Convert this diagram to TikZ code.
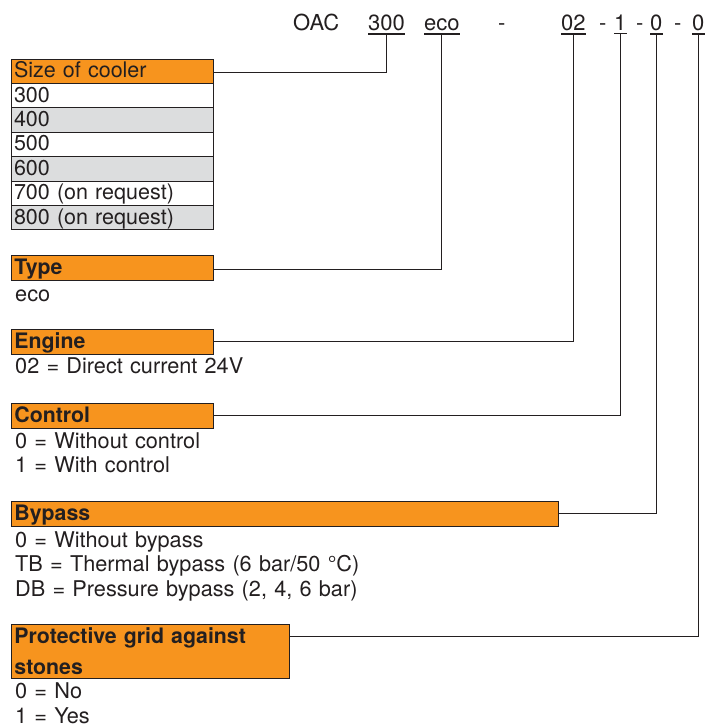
\documentclass[tikz,border=0pt]{standalone}
\usepackage{fontspec}
\setmainfont{TeX Gyre Heros}
\usetikzlibrary{positioning}
\definecolor{KeyOrange}{RGB}{247,148,30}
\definecolor{RowGray}{RGB}{220,221,222}
\definecolor{InkGray}{RGB}{35,31,32}

\tikzset{
  code/.style={anchor=base west, inner xsep=0pt, inner ysep=3pt, text=InkGray, font=\fontsize{22}{26}\selectfont},
  head/.style={draw=InkGray, line width=0.9pt, fill=KeyOrange, anchor=north west, inner xsep=3pt, inner ysep=2.5pt,
    text width=196pt, align=left, text height=16.5pt, text depth=3.5pt, text=InkGray, font=\fontsize{21.3}{31}\selectfont\bfseries},
  row/.style={draw=InkGray, line width=0.7pt, outer sep=0pt, anchor=north west, inner xsep=3pt, inner ysep=2.2pt,
    text width=196pt, align=left, text height=16.5pt, text depth=3.5pt, text=InkGray, font=\fontsize{21.5}{24}\selectfont},
  body/.style={anchor=base west, inner sep=0pt, text width=400pt, align=left, text=InkGray, font=\fontsize{21.7}{24.4}\selectfont},
  link/.style={draw=InkGray, line width=1pt},
  uline/.style={draw=InkGray, line width=1.3pt}
}

\begin{document}
\begin{tikzpicture}[x=1pt, y=-1pt]
  \useasboundingbox (0,0) rectangle (706,724);

  % type code
  \node[code] (oac) at (293,30.5) {OAC};
  \node[code] (n300) at (368,30.5) {300};
  \node[code] (neco) at (424,30.5) {eco};
  \node[code] (d1) at (498,30.5) {-};
  \node[code] (n02) at (561,30.5) {02};
  \node[code] (d2) at (599,30.5) {-};
  \node[code] (n1) at (614,30.5) {1};
  \node[code] (d3) at (636,30.5) {-};
  \node[code] (n0a) at (650,30.5) {0};
  \node[code] (d4) at (674,30.5) {-};
  \node[code] (n0b) at (692,30.5) {0};
  \foreach \c in {n300,neco,n02,n1,n0a,n0b}
    \draw[uline] (\c.south west) -- (\c.south east);

  % size of cooler
  \node[row, fill=KeyOrange] (hsize) at (11,59) {Size of cooler};
  \node[row, fill=white, below=0pt of hsize] (r300) {300};
  \node[row, fill=RowGray, below=0pt of r300] (r400) {400};
  \node[row, fill=white, below=0pt of r400] (r500) {500};
  \node[row, fill=RowGray, below=0pt of r500] (r600) {600};
  \node[row, fill=white, below=0pt of r600] (r700) {700 (on request)};
  \node[row, fill=RowGray, below=0pt of r700] (r800) {800 (on request)};

  % type
  \node[head] (htype) at (11,255) {Type};
  \node[body] (ttype) at ([xshift=4pt,yshift=-20.5pt]htype.south west) {eco};

  % engine
  \node[head] (hengine) at (11,329) {Engine};
  \node[body] (tengine) at ([xshift=4pt,yshift=-18.5pt]hengine.south west) {02 = Direct current 24V};

  % control
  \node[head] (hcontrol) at (11,403) {Control};
  \node[body] (tcontrol) at ([xshift=4pt,yshift=-19.5pt]hcontrol.south west) {0 = Without control\\1 = With control};

  % bypass
  \node[head, text width=541pt] (hbypass) at (11,501) {Bypass};
  \node[body] (tbypass) at ([xshift=4pt,yshift=-20.5pt]hbypass.south west)
    {0 = Without bypass\\TB = Thermal bypass (6 bar/50 °C)\\DB = Pressure bypass (2, 4, 6 bar)};

  % protective grid
  \node[head, text width=272pt, text depth=32.8pt] (hgrid) at (11,624) {Protective grid against\\stones};
  \node[body] (tgrid) at ([xshift=4pt,yshift=-19.5pt]hgrid.south west) {0 = No\\1 = Yes};

  % connectors
  \draw[link] ([yshift=-13.5pt]hsize.north east) -| (n300.south);
  \draw[link] ([yshift=-14pt]htype.north east) -| (neco.south);
  \draw[link] ([yshift=-12.7pt]hengine.north east) -| (n02.south);
  \draw[link] ([yshift=-12.5pt]hcontrol.north east) -| (n1.south);
  \draw[link] ([yshift=-12.5pt]hbypass.north east) -| (n0a.south);
  \draw[link] ([yshift=-12.5pt]hgrid.north east) -| (n0b.south);
\end{tikzpicture}
\end{document}
